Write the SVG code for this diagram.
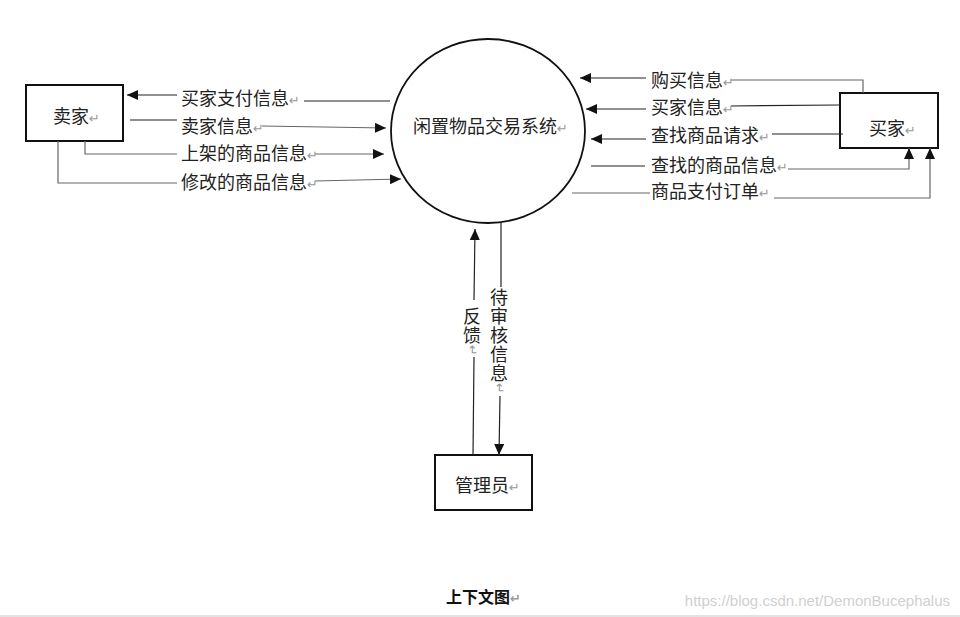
<svg xmlns="http://www.w3.org/2000/svg" width="960" height="617" viewBox="0 0 960 617">
<defs>
<marker id="ah" markerUnits="userSpaceOnUse" markerWidth="11" markerHeight="10" refX="11" refY="5" orient="auto">
<path d="M0,0 L11,5 L0,10 Z" fill="#111"/>
</marker>
<style>
.t{font-family:"Noto Sans CJK SC","Liberation Sans",sans-serif;font-size:18px;fill:#222}
.m{font-family:"DejaVu Sans",sans-serif;font-size:13px;fill:#999}
.box{fill:#fff;stroke:#111;stroke-width:2}
.ln{fill:none;stroke:#222;stroke-width:1.2}
.lg{fill:none;stroke:#666;stroke-width:1.2}
.ar{marker-end:url(#ah)}
.v{writing-mode:vertical-rl;letter-spacing:1px}
</style>
</defs>
<rect width="960" height="617" fill="#fff"/>

<g id="seller">
<rect class="box" x="26" y="85" width="97" height="56"/>
<text class="t" x="53" y="123">卖家<tspan class="m">↵</tspan></text>
</g>

<g id="system">
<ellipse cx="488" cy="131" rx="97" ry="92" fill="#fff" stroke="#111" stroke-width="1.8"/>
<text class="t" x="413" y="133">闲置物品交易系统<tspan class="m">↵</tspan></text>
</g>

<g id="buyer">
<rect class="box" x="840" y="93" width="98" height="55"/>
<text class="t" x="869" y="135">买家<tspan class="m">↵</tspan></text>
</g>

<g id="admin">
<rect class="box" x="435" y="455" width="97" height="55"/>
<text class="t" x="455" y="492">管理员<tspan class="m">↵</tspan></text>
</g>

<g id="connectors">
<g id="c-buyer-pay-info">
<path class="ln" d="M390,101 L304,101"/>
<path class="ln ar" d="M177,95 L127,95"/>
<text class="t" x="181" y="105">买家支付信息<tspan class="m">↵</tspan></text>
</g>
<g id="c-seller-info">
<path class="ln" d="M130,120 L177,120"/>
<path class="lg ar" d="M262,126 L386,128"/>
<text class="t" x="181" y="133">卖家信息<tspan class="m">↵</tspan></text>
</g>
<g id="c-listed-goods">
<path class="lg" d="M85,141 L85,154 L177,154"/>
<path class="lg ar" d="M315,154 L384,154"/>
<text class="t" x="181" y="160">上架的商品信息<tspan class="m">↵</tspan></text>
</g>
<g id="c-modified-goods">
<path class="lg" d="M58,141 L58,183 L177,183"/>
<path class="lg ar" d="M315,181 L401,179"/>
<text class="t" x="181" y="189">修改的商品信息<tspan class="m">↵</tspan></text>
</g>

<g id="c-purchase-info">
<path class="lg" d="M863,93 L863,80 L731,80"/>
<path class="ln ar" d="M646,78 L580,78"/>
<text class="t" x="651" y="87">购买信息<tspan class="m">↵</tspan></text>
</g>
<g id="c-buyer-info">
<path class="ln" d="M840,105 L731,106"/>
<path class="ln ar" d="M646,109 L586,109"/>
<text class="t" x="651" y="114">买家信息<tspan class="m">↵</tspan></text>
</g>
<g id="c-search-request">
<path class="ln" d="M843,134 L772,134"/>
<path class="ln ar" d="M646,139 L591,139"/>
<text class="t" x="651" y="142">查找商品请求<tspan class="m">↵</tspan></text>
</g>
<g id="c-search-result">
<path class="ln" d="M591,166 L645,166"/>
<path class="lg ar" d="M788,169 L909,169 L909,148"/>
<text class="t" x="651" y="172">查找的商品信息<tspan class="m">↵</tspan></text>
</g>
<g id="c-pay-order">
<path class="lg" d="M572,193 L650,193"/>
<path class="lg ar" d="M774,198 L930,198 L930,148"/>
<text class="t" x="651" y="198">商品支付订单<tspan class="m">↵</tspan></text>
</g>

<g id="c-feedback">
<path class="ln" d="M473,455 L474,357"/>
<path class="ln ar" d="M474,300 L475,229"/>
<text class="t v" x="472" y="307">反馈<tspan class="m">↵</tspan></text>
</g>
<g id="c-pending-review">
<path class="ln" d="M501,223 L501,287"/>
<path class="ln ar" d="M500,396 L499,455"/>
<text class="t v" x="499" y="288">待审核信息<tspan class="m">↵</tspan></text>
</g>
</g>

<text x="446" y="603" style="font-family:'Noto Sans CJK SC','Liberation Sans',sans-serif;font-size:16px;font-weight:bold;fill:#111">上下文图<tspan class="m">↵</tspan></text>
<text x="950" y="606" text-anchor="end" style="font-family:'Liberation Sans',Arial,sans-serif;font-size:15px;fill:#d0d0d0">https://blog.csdn.net/DemonBucephalus</text>
<line x1="0" y1="616" x2="960" y2="616" stroke="#e3e3e3" stroke-width="2"/>
</svg>
